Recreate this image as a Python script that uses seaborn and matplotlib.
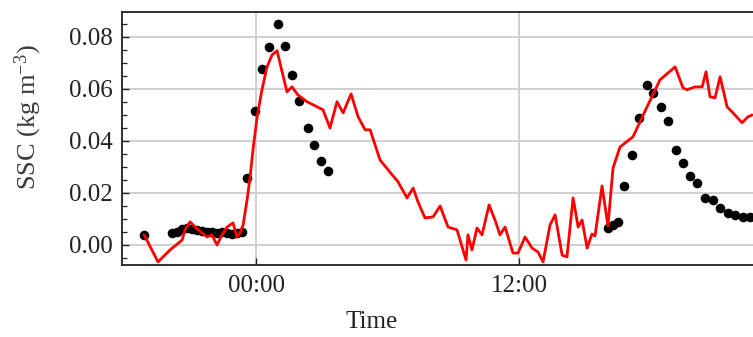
import matplotlib
matplotlib.use("Agg")
import matplotlib.pyplot as plt
import matplotlib.dates as mdates
from matplotlib.ticker import MultipleLocator
import numpy as np
import pandas as pd
import seaborn as sns

# hours relative to 00:00, SSC in kg m-3
model_hours = [-5.10, -4.47, -3.92, -3.37, -3.24, -3.01, -2.69, -2.23, -2.01, -1.78,
               -1.55, -1.32, -1.05, -0.87, -0.73, -0.59, -0.41, -0.27, -0.14, 0.05,
               0.27, 0.50, 0.73, 0.96, 1.09, 1.41, 1.64, 1.91, 2.32, 3.05,
               3.37, 3.69, 3.97, 4.33, 4.65, 4.97, 5.20, 5.65, 6.02, 6.47,
               6.88, 7.16, 7.38, 7.70, 8.07, 8.39, 8.75, 9.16, 9.57, 9.66,
               9.84, 10.07, 10.30, 10.62, 10.89, 11.12, 11.35, 11.71, 11.94, 12.26,
               12.58, 12.85, 13.08, 13.40, 13.63, 13.95, 14.17, 14.45, 14.68, 14.86,
               15.09, 15.31, 15.45, 15.77, 16.04, 16.27, 16.59, 17.18, 17.82, 18.41,
               19.10, 19.46, 19.64, 20.01, 20.33, 20.51, 20.69, 20.92, 21.15, 21.47,
               21.74, 22.15, 22.42, 22.61]
model_ssc = [0.0039, -0.0065, -0.0019, 0.0019, 0.0058, 0.0089, 0.0062, 0.0031, 0.0039, 0.0000,
             0.0039, 0.0069, 0.0085, 0.0031, 0.0046, 0.0077, 0.0173, 0.0262, 0.0366, 0.0493,
             0.0597, 0.0685, 0.0731, 0.0747, 0.0700, 0.0589, 0.0608, 0.0577, 0.0551, 0.0520,
             0.0450, 0.0551, 0.0508, 0.0581, 0.0493, 0.0443, 0.0443, 0.0327, 0.0289, 0.0243,
             0.0181, 0.0219, 0.0166, 0.0104, 0.0108, 0.0150, 0.0069, 0.0058, -0.0058, 0.0039,
             -0.0019, 0.0065, 0.0039, 0.0154, 0.0096, 0.0039, 0.0069, -0.0031, -0.0031, 0.0031,
             -0.0012, -0.0027, -0.0065, 0.0077, 0.0116, -0.0039, -0.0046, 0.0181, 0.0069, 0.0096,
             -0.0012, 0.0042, 0.0035, 0.0227, 0.0073, 0.0296, 0.0377, 0.0416, 0.0531, 0.0635,
             0.0685, 0.0604, 0.0597, 0.0608, 0.0608, 0.0666, 0.0570, 0.0566, 0.0647, 0.0531,
             0.0508, 0.0470, 0.0493, 0.0500]

obs_hours = [-5.10, -3.82, -3.59, -3.37, -3.14, -2.91, -2.69, -2.46, -2.23, -2.01,
             -1.78, -1.55, -1.32, -1.09, -0.87, -0.64, -0.41, -0.05, 0.27, 0.59,
             1.00, 1.32, 1.64, 1.96, 2.37, 2.64, 2.96, 3.28,
             16.04, 16.27, 16.50, 16.77, 17.14, 17.46, 17.82, 18.09, 18.46, 18.78,
             19.14, 19.46, 19.78, 20.10, 20.47, 20.83, 21.15, 21.51, 21.83, 22.20, 22.51]
obs_ssc = [0.0039, 0.0045, 0.0050, 0.0062, 0.0066, 0.0062, 0.0058, 0.0054, 0.0050, 0.0050,
           0.0046, 0.0050, 0.0046, 0.0042, 0.0046, 0.0050, 0.0258, 0.0516, 0.0677, 0.0762,
           0.0850, 0.0766, 0.0654, 0.0554, 0.0450, 0.0385, 0.0323, 0.0285,
           0.0065, 0.0077, 0.0088, 0.0227, 0.0346, 0.0488, 0.0615, 0.0585, 0.0531, 0.0477,
           0.0365, 0.0315, 0.0265, 0.0238, 0.0181, 0.0173, 0.0142, 0.0123, 0.0115, 0.0108, 0.0108]

base = pd.Timestamp("2020-01-02 00:00")
model = pd.DataFrame({"time": base + pd.to_timedelta(model_hours, unit="h"), "ssc": model_ssc})
obs = pd.DataFrame({"time": base + pd.to_timedelta(obs_hours, unit="h"), "ssc": obs_ssc})

sns.set_style("white")
plt.rcParams["font.family"] = ["Liberation Serif", "DejaVu Serif"]
plt.rcParams["mathtext.fontset"] = "custom"
plt.rcParams["mathtext.rm"] = "Liberation Serif"
plt.rcParams["mathtext.it"] = "Liberation Serif:italic"

fig = plt.figure(figsize=(7.53, 3.37), dpi=100)
ax = fig.add_axes([122 / 753, 72 / 337, 636 / 753, 253 / 337])

sns.scatterplot(data=obs, x="time", y="ssc", ax=ax, color="black", s=48,
                edgecolor="black", linewidth=0, zorder=3)
sns.lineplot(data=model, x="time", y="ssc", ax=ax, color="#ff0000", linewidth=2.0,
             zorder=4)

x0 = base + pd.Timedelta(hours=-6.11)
x1 = base + pd.Timedelta(hours=-6.11 + 636 / 21.94)
ax.set_xlim(x0, x1)
ax.set_ylim(-0.0077, 0.0896)

ax.xaxis.set_major_locator(mdates.HourLocator(byhour=[0, 12]))
ax.xaxis.set_major_formatter(mdates.DateFormatter("%H:%M"))
ax.yaxis.set_major_locator(MultipleLocator(0.02))
ax.yaxis.set_minor_locator(MultipleLocator(0.005))
ax.yaxis.set_major_formatter(matplotlib.ticker.FormatStrFormatter("%.2f"))

ax.grid(True, which="major", color="#cfcfcf", linewidth=1.4)
ax.set_axisbelow(True)
for s in ax.spines.values():
    s.set_color("#222222")
    s.set_linewidth(1.3)

ax.tick_params(axis="both", which="major", direction="in", length=5, width=1,
               labelsize=18, labelcolor="#222222", pad=7, color="#222222")
ax.tick_params(axis="y", which="minor", direction="in", length=3.5, width=0.9,
               color="#222222", left=True)
ax.tick_params(left=True, bottom=True)

ax.set_xlabel("Time", fontsize=18, color="#222222")
ax.set_ylabel("SSC (kg m$^{-3}$)", fontsize=19, color="#3a3a3a")
ax.xaxis.set_label_coords((372 - 122) / 636, -0.18)
ax.yaxis.set_label_coords(-0.122, 0.585)

fig.savefig("out.png", dpi=100)
